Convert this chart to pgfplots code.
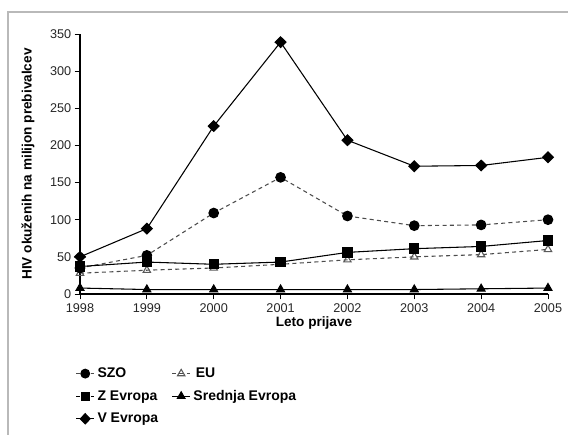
\documentclass[border=0pt]{standalone}
\usepackage{fontspec}
\setmainfont{Liberation Sans}
\usepackage{pgfplots}
\pgfplotsset{compat=1.18}
\begin{document}
\begin{tikzpicture}[x=0.75pt,y=0.75pt]
\path[use as bounding box] (0,0) rectangle (568,435);
\draw[gray!55, line width=1.8pt] (8,0) -- (8,423) -- (568,423);
\coordinate (A) at (80,141);
\begin{axis}[
  at={(A)}, anchor=south west,
  scale only axis, width=351pt, height=195pt,
  xmin=0, xmax=7, ymin=0, ymax=350,
  axis x line*=bottom, axis y line*=left,
  xtick={0,...,7}, xticklabels={1998,1999,2000,2001,2002,2003,2004,2005},
  ytick={0,50,...,350},
  tick align=outside, major tick length=4pt,
  tick style={black, line width=0.6pt},
  axis line style={line width=0.9pt, -},
  ticklabel style={font=\fontsize{9.5}{11}\selectfont, text=black!85},
  yticklabel style={xshift=1pt},
  /pgf/number format/assume math mode=true,
  xlabel={Leto prijave}, ylabel={HIV okuženih na milijon prebivalcev},
  label style={font=\fontsize{10.2}{12}\selectfont\bfseries},
  xlabel style={yshift=4pt},
  ylabel style={yshift=5pt},
  clip=false,
  legend columns=2,
  legend style={at={(-0.01,-0.262)}, anchor=north west, draw=none, fill=none,
    font=\fontsize{10.5}{12}\selectfont\bfseries, row sep=4pt,
    inner xsep=0pt,
    /tikz/every even column/.append style={column sep=8pt}},
  legend cell align=left,
  legend image code/.code={\draw[mark repeat=2,mark phase=2,#1] plot coordinates {(0cm,0cm) (0.24cm,0cm) (0.48cm,0cm)};},
]
\addlegendimage{gray!60!black, line width=0.8pt, dash pattern=on 3pt off 2.5pt, mark=*, mark size=3.3pt, mark options={solid, fill=black, draw=black}}
\addlegendentry{SZO}
\addlegendimage{gray!60!black, line width=0.8pt, dash pattern=on 3pt off 2.5pt, mark=triangle, mark size=3.2pt, mark options={solid, fill=white, draw=gray!70!black}}
\addlegendentry{\,EU}
\addlegendimage{black, line width=0.8pt, dash pattern=on 3pt off 2.5pt, mark=square*, mark size=3pt, mark options={solid, fill=black}}
\addlegendentry{Z Evropa}
\addlegendimage{black, line width=0.8pt, mark=triangle*, mark size=3.3pt, mark options={solid, fill=black}}
\addlegendentry{Srednja Evropa}
\addlegendimage{black, line width=0.8pt, mark=diamond*, mark size=3.8pt, mark options={solid, fill=black, xscale=1.3}}
\addlegendentry{V Evropa}

% EU
\addplot[forget plot, gray!60!black, line width=0.8pt, dash pattern=on 3pt off 2.5pt, mark=triangle, mark size=3.2pt, mark options={solid, fill=white, draw=gray!70!black}]
 coordinates {(0,28) (1,32) (2,35) (3,40) (4,46) (5,50) (6,53) (7,60)};
% SZO
\addplot[forget plot, gray!60!black, line width=0.8pt, dash pattern=on 3pt off 2.5pt, mark=*, mark size=3.6pt, mark options={solid, fill=black, draw=black}]
 coordinates {(0,35) (1,52) (2,109) (3,157) (4,105) (5,92) (6,93) (7,100)};
% Z Evropa
\addplot[forget plot, black, line width=0.8pt, mark=square*, mark size=3.5pt, mark options={solid, fill=black}]
 coordinates {(0,37) (1,43) (2,40) (3,43) (4,56) (5,61) (6,64) (7,72)};
% Srednja Evropa
\addplot[forget plot, black, line width=0.8pt, mark=triangle*, mark size=3.4pt, mark options={solid, fill=black}]
 coordinates {(0,8) (1,6) (2,6) (3,6) (4,6) (5,6) (6,7) (7,8)};
% V Evropa
\addplot[forget plot, black, line width=0.8pt, mark=diamond*, mark size=4pt, mark options={solid, fill=black, xscale=1.35}]
 coordinates {(0,50) (1,88) (2,226) (3,339) (4,207) (5,172) (6,173) (7,184)};
\end{axis}
\end{tikzpicture}
\end{document}
